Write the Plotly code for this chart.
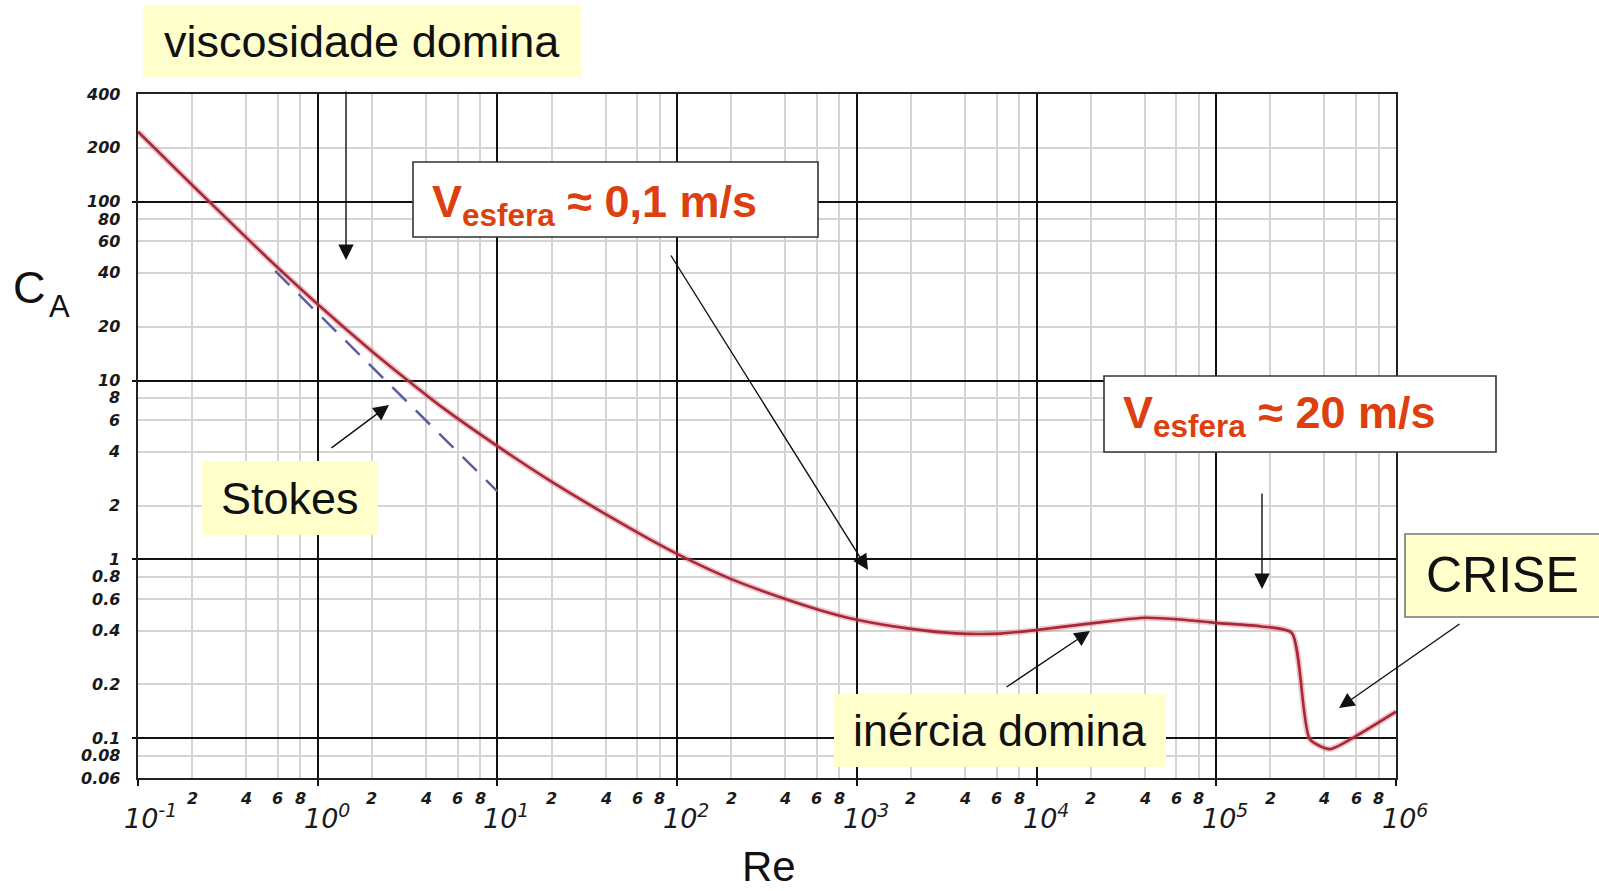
import math
import plotly.graph_objects as go

# Drag coefficient of a sphere versus Reynolds number
re_curve = [0.1, 0.2, 0.5, 1, 2, 3.16, 5, 10, 20, 40, 70.8, 115, 200, 400, 631,
            1000, 2000, 3550, 6310, 10000, 22400, 40000, 63100, 100000, 178000, 263000,
            331000, 427000, 589000, 1000000]
ca_curve = [246, 124, 50.8, 26.7, 14.6, 10.05, 7.01, 4.3, 2.72, 1.79, 1.29, 1.0, 0.776,
            0.601, 0.519, 0.46, 0.409, 0.386, 0.385, 0.403, 0.445, 0.472, 0.462, 0.442,
            0.422, 0.389, 0.099, 0.087, 0.102, 0.141]

# Stokes law segment
re_stokes = [0.58, 10]
ca_stokes = [41, 2.4]

# Axis ticks
x_decades = [-1, 0, 1, 2, 3, 4, 5, 6]
x_minor_mult = [2, 4, 6, 8]
y_major = [0.1, 1, 10, 100]
y_minor = [0.06, 0.08, 0.2, 0.4, 0.6, 0.8, 2, 4, 6, 8, 20, 40, 60, 80, 200, 400]
y_tick_vals = [400, 200, 100, 80, 60, 40, 20, 10, 8, 6, 4, 2, 1, 0.8, 0.6, 0.4, 0.2, 0.1, 0.08, 0.06]
y_tick_text = ["400", "200", "100", "80", "60", "40", "20", "10", "8", "6", "4", "2", "1",
               "0.8", "0.6", "0.4", "0.2", "0.1", "0.08", "0.06"]

W, H = 1599, 891
L, R, T, B = 138, 1396, 94, 778
PW, PH = R - L, B - T


def px(x):
    return (x - L) / PW


def py(y):
    return (B - y) / PH


fig = go.Figure()

fig.add_trace(go.Scatter(
    x=re_curve, y=ca_curve, mode="lines",
    line=dict(color="rgba(205,90,100,0.35)", width=6, shape="spline", smoothing=0.6),
    hoverinfo="skip", showlegend=False))
fig.add_trace(go.Scatter(
    x=re_curve, y=ca_curve, mode="lines",
    line=dict(color="#a8283a", width=2.6, shape="spline", smoothing=0.6),
    showlegend=False))
fig.add_trace(go.Scatter(
    x=re_stokes, y=ca_stokes, mode="lines",
    line=dict(color="#5b5f9f", width=2.5, dash="20px,13px"),
    showlegend=False))

x_minor_vals = [m * 10 ** d for d in x_decades[:-1] for m in x_minor_mult]

fig.update_xaxes(
    type="log", range=[-1, 6],
    tickvals=[10 ** d for d in x_decades], showticklabels=False,
    showgrid=True, gridcolor="#111", gridwidth=1.6,
    ticks="outside", ticklen=6, tickcolor="#111", tickwidth=1.6,
    showline=True, mirror=True, linecolor="#222", linewidth=2,
    minor=dict(tickvals=x_minor_vals, showgrid=True, gridcolor="#d6d3d3", gridwidth=2, ticks=""),
    zeroline=False)
fig.update_yaxes(
    type="log", range=[math.log10(0.06), math.log10(400)],
    tickvals=y_major, showticklabels=False,
    showgrid=True, gridcolor="#111", gridwidth=1.6,
    ticks="outside", ticklen=4, tickcolor="#111", tickwidth=1.6,
    showline=True, mirror=True, linecolor="#222", linewidth=2,
    minor=dict(tickvals=y_minor, showgrid=True, gridcolor="#d6d3d3", gridwidth=2, ticks=""),
    zeroline=False)

ann = []
tick_font = dict(family="DejaVu Sans", size=16, color="#1a1a1a", style="italic", weight="bold")

for v, t in zip(y_tick_vals, y_tick_text):
    ann.append(dict(x=0, xref="paper", y=math.log10(v), yref="y", text=t,
                    xanchor="right", yanchor="middle", xshift=-16, showarrow=False,
                    font=tick_font))

for d in x_decades[:-1]:
    for m in x_minor_mult:
        ann.append(dict(x=math.log10(m * 10 ** d), xref="x", y=0, yref="paper", text=str(m),
                        xanchor="center", yanchor="middle", yshift=-20, showarrow=False,
                        font=dict(family="DejaVu Sans", size=16, color="#1a1a1a",
                                  style="italic", weight="bold")))
for d in x_decades:
    ann.append(dict(x=d, xref="x", y=0, yref="paper", text="10<sup>%d</sup>" % d,
                    xanchor="left", yanchor="middle", xshift=-16, yshift=-38, showarrow=False,
                    font=dict(family="DejaVu Sans", size=27, color="#1a1a1a", style="italic")))

# Axis titles
label_font = dict(family="Liberation Sans", color="#111")
ann.append(dict(x=px(29), y=py(287), xref="paper", yref="paper", text="C", showarrow=False,
                xanchor="center", yanchor="middle", font=dict(size=45, **label_font)))
ann.append(dict(x=px(59), y=py(306), xref="paper", yref="paper", text="A", showarrow=False,
                xanchor="center", yanchor="middle", font=dict(size=31, **label_font)))
ann.append(dict(x=px(769), y=py(866), xref="paper", yref="paper", text="Re", showarrow=False,
                xanchor="center", yanchor="middle", font=dict(size=42, **label_font)))

# Label boxes: (x0, y0, x1, y1, fill, border)
boxes = [
    (143, 5, 581, 77, "#ffffcc", None),
    (202, 461, 378, 535, "#ffffcc", None),
    (834, 694, 1166, 767, "#ffffcc", None),
    (1405, 534, 1603, 617, "#ffffcc", "#777"),
    (413, 162, 818, 237, "white", "#333"),
    (1104, 376, 1496, 452, "white", "#333"),
]
shapes = []
for x0, y0, x1, y1, fill, border in boxes:
    shapes.append(dict(type="rect", xref="paper", yref="paper",
                       x0=px(x0), x1=px(x1), y0=py(y1), y1=py(y0),
                       fillcolor=fill, layer="above",
                       line=dict(color=border or fill, width=1.6 if border else 0)))

for text, cx, cy, size in [("viscosidade domina", 362, 41, 45), ("Stokes", 290, 498, 45),
                           ("inércia domina", 1000, 730, 45), ("CRISE", 1502, 575, 50)]:
    ann.append(dict(x=px(cx), y=py(cy), xref="paper", yref="paper", text=text, showarrow=False,
                    xanchor="center", yanchor="middle",
                    font=dict(family="Liberation Sans", size=size, color="#111")))

v_font = dict(family="Liberation Sans", size=45, color="#dc400e", weight="bold")
for text, lx, cy in [("V<sub>esfera</sub> ≈ 0,1 m/s", 430, 204),
                     ("V<sub>esfera</sub> ≈ 20 m/s", 1121, 415)]:
    ann.append(dict(x=px(lx), y=py(cy), xref="paper", yref="paper", text=text, showarrow=False,
                    xanchor="left", yanchor="middle", font=v_font))

# Pointer arrows: tail -> head in page pixels
arrows = [
    ((346, 90), (346, 260)),
    ((670, 254), (868, 570)),
    ((330, 449), (389, 405)),
    ((1262, 492), (1262, 589)),
    ((1005, 688), (1090, 631)),
    ((1461, 623), (1339, 708)),
]
for (tx, ty), (hx, hy) in arrows:
    ann.append(dict(x=px(hx), y=py(hy), xref="paper", yref="paper", text="",
                    showarrow=True, ax=tx - hx, ay=ty - hy, axref="pixel", ayref="pixel",
                    arrowhead=2, arrowsize=2.2, arrowwidth=1.4, arrowcolor="#111",
                    standoff=0, startstandoff=0))

fig.update_layout(
    width=W, height=H,
    margin=dict(l=L, r=W - R, t=T, b=H - B, pad=0),
    paper_bgcolor="white", plot_bgcolor="white",
    showlegend=False,
    annotations=ann, shapes=shapes,
)

fig.write_html("out.html")
